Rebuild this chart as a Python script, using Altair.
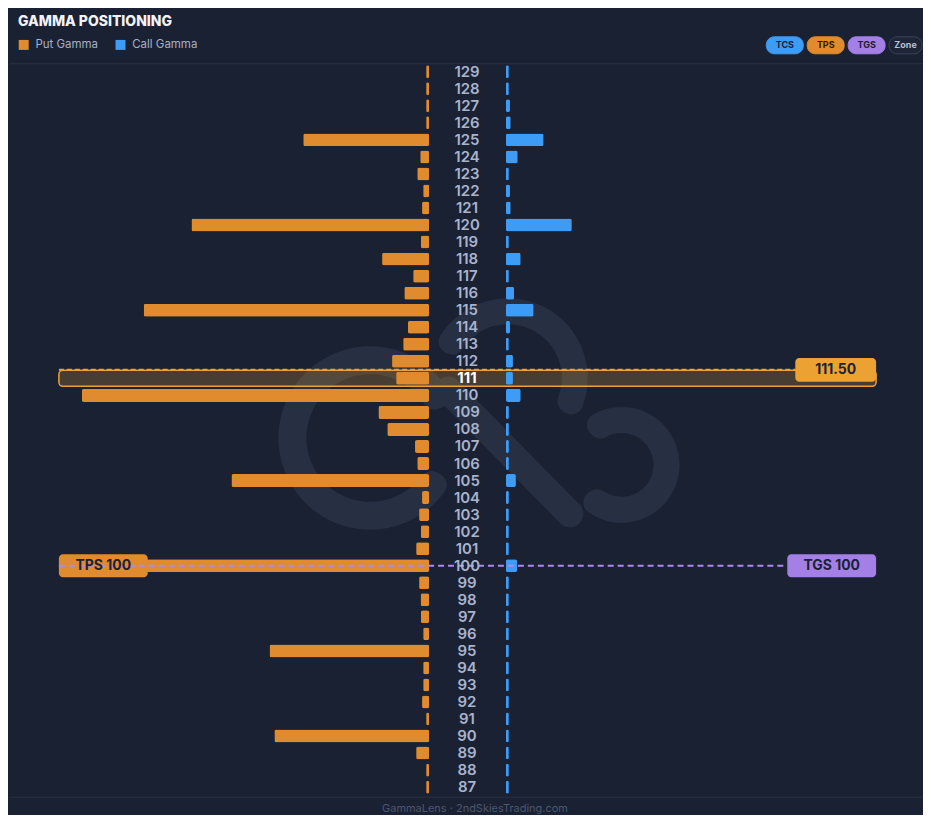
import altair as alt
import pandas as pd

# ---------------- data ----------------
strikes = list(range(129, 86, -1))  # 129 .. 87
put_gamma = [0.8, 0.8, 0.8, 0.8, 34.0, 2.4, 3.2, 1.6, 1.9, 64.2,
             2.2, 12.7, 4.3, 6.7, 77.1, 5.7, 7.0, 10.0, 8.9, 93.8,
             13.7, 11.3, 3.8, 3.2, 53.4, 1.9, 2.7, 2.2, 3.5, 100.0,
             2.7, 2.3, 2.2, 1.6, 43.1, 1.6, 1.6, 1.9, 0.8, 41.8,
             3.5, 0.8, 0.8]
call_gamma = [0.8, 0.8, 1.1, 1.3, 10.2, 3.2, 0.8, 1.1, 1.3, 17.8,
              0.8, 4.0, 0.8, 2.2, 7.5, 1.1, 0.8, 1.9, 1.9, 4.0,
              0.8, 0.8, 0.8, 0.8, 2.7, 0.8, 0.8, 0.8, 0.8, 3.0,
              0.8, 0.8, 0.8, 0.8, 0.8, 0.8, 0.8, 0.8, 0.8, 0.8,
              0.8, 0.8, 0.8]
spot_price = 111.50
spot_label = "111.50"
current_strike = 111
tps_level = 100
tgs_level = 100
series_names = ["Put Gamma", "Call Gamma"]
badge_names = ["TCS", "TPS", "TGS", "Zone"]
title_text = "GAMMA POSITIONING"
footer_text = "GammaLens · 2ndSkiesTrading.com"

# ---------------- style ----------------
BG = "#1a2133"
ORANGE = "#e08b2d"
BLUE = "#3d9cf5"
PURPLE = "#a37fe6"
GOLD = "#eba233"
LABEL = "#a9b4cc"
DARK = "#1b2234"
WMARK = "#273043"
FONT = "Inter"
W, H = 915, 807

df = pd.DataFrame({"strike": strikes, "put": put_gamma, "call": call_gamma})

yscale = alt.Scale(domain=[87, 129], range=[780, 63], padding=0)
Y = alt.Y("strike:Q", scale=yscale, axis=None)
cscale = alt.Scale(domain=series_names, range=[ORANGE, BLUE])

put_bars = alt.Chart(df).transform_calculate(series="'Put Gamma'").mark_bar(
    orient="horizontal", size=13, cornerRadius=2
).encode(
    y=Y,
    x=alt.X("put:Q", scale=alt.Scale(domain=[0, 100], range=[421, 50]), axis=None),
    color=alt.Color("series:N", scale=cscale, legend=alt.Legend(
        orient="none", legendX=9, legendY=30, direction="horizontal", title=None,
        symbolType="square", symbolSize=100, symbolStrokeWidth=0,
        labelColor="#a8b1c4", labelFontSize=11.5, labelFont=FONT,
        columnPadding=16, labelOffset=6)),
)

call_bars = alt.Chart(df).transform_calculate(series="'Call Gamma'").mark_bar(
    orient="horizontal", size=13, cornerRadius=2
).encode(
    y=Y,
    x=alt.X("call:Q", scale=alt.Scale(domain=[0, 100], range=[498, 869]), axis=None),
    color=alt.Color("series:N", scale=cscale),
)

# highlighted current strike row
band_df = pd.DataFrame({"strike": [current_strike]})
band = alt.Chart(band_df).transform_calculate(
    top="datum.strike + 0.47", bot="datum.strike - 0.47"
).mark_rect(fill=GOLD, fillOpacity=0.22, stroke=GOLD, strokeWidth=1.5, cornerRadius=4).encode(
    y=alt.Y("top:Q", scale=yscale, axis=None), y2="bot:Q",
    x=alt.value(50), x2=alt.value(869),
)

spot_df = pd.DataFrame({"strike": [spot_price], "label": [spot_label]})
spot_line = alt.Chart(spot_df).mark_rule(color=GOLD, strokeWidth=2, strokeDash=[5, 3]).encode(
    y=Y, x=alt.value(50), x2=alt.value(788)
)
spot_badge = alt.Chart(spot_df).transform_calculate(
    top="datum.strike + 0.70", bot="datum.strike - 0.70"
).mark_rect(fill=GOLD, cornerRadius=4).encode(
    y=alt.Y("top:Q", scale=yscale, axis=None), y2="bot:Q",
    x=alt.value(788), x2=alt.value(869),
)
spot_text = alt.Chart(spot_df).mark_text(
    font=FONT, fontSize=14, fontWeight="bold", color=DARK
).encode(y=Y, x=alt.value(828.5), text="label:N")

lvl_df = pd.DataFrame({"strike": [tps_level], "tps": [f"TPS {tps_level}"], "tgs": [f"TGS {tgs_level}"]})
lvl_line = alt.Chart(lvl_df).mark_rule(color="#ad88ee", strokeWidth=2, strokeDash=[6, 4]).encode(
    y=Y, x=alt.value(50), x2=alt.value(780)
)
tps_badge = alt.Chart(lvl_df).transform_calculate(
    top="datum.strike + 0.67", bot="datum.strike - 0.67"
).mark_rect(fill=ORANGE, cornerRadius=4).encode(
    y=alt.Y("top:Q", scale=yscale, axis=None), y2="bot:Q",
    x=alt.value(50), x2=alt.value(139),
)
tps_text = alt.Chart(lvl_df).mark_text(font=FONT, fontSize=14, fontWeight="bold", color=DARK).encode(
    y=Y, x=alt.value(94.5), text="tps:N")
tgs_badge = alt.Chart(lvl_df).transform_calculate(
    top="datum.strike + 0.67", bot="datum.strike - 0.67"
).mark_rect(fill=PURPLE, cornerRadius=4).encode(
    y=alt.Y("top:Q", scale=yscale, axis=None), y2="bot:Q",
    x=alt.value(780), x2=alt.value(869),
)
tgs_text = alt.Chart(lvl_df).mark_text(font=FONT, fontSize=14, fontWeight="bold", color=DARK).encode(
    y=Y, x=alt.value(824.5), text="tgs:N")

# strike labels
labels = alt.Chart(df).transform_filter(f"datum.strike != {current_strike}").mark_text(
    font=FONT, fontSize=15, fontWeight=600, color=LABEL
).encode(y=Y, x=alt.value(459), text="strike:Q")
label_cur = alt.Chart(df).transform_filter(f"datum.strike == {current_strike}").mark_text(
    font=FONT, fontSize=15, fontWeight="bold", color="#ffffff"
).encode(y=Y, x=alt.value(459), text="strike:Q")

# chrome: title, separators, footer, badges, watermark
def one(text):
    return alt.Data(values=[{"t": text}])

title = alt.Chart(one(title_text)).mark_text(
    font=FONT, fontSize=14, fontWeight=800, color="#f1f3f8", align="left", baseline="middle"
).encode(x=alt.value(9), y=alt.value(13), text="t:N")
footer = alt.Chart(one(footer_text)).mark_text(
    font=FONT, fontSize=11, color="#4d576c", align="center", baseline="middle"
).encode(x=alt.value(467), y=alt.value(802), text="t:N")
sep_top = alt.Chart(one("")).mark_rule(color="#2a3346", strokeWidth=1).encode(
    x=alt.value(0), x2=alt.value(W), y=alt.value(55))
sep_bot = alt.Chart(one("")).mark_rule(color="#262f42", strokeWidth=1).encode(
    x=alt.value(0), x2=alt.value(W), y=alt.value(790))

# faint logo watermark (decoration)
wm_arcs = [
    # cx, cy, inner, outer, theta, theta2 (radians, clockwise from 12 o'clock)
    (362, 430, 64, 92, 2.05, 7.45),
    (500, 370, 54, 80, 5.10, 8.40),
    (614, 457, 32, 58, 5.50, 10.30),
]
wm_layers = []
for cx, cy, r0, r1, t0, t1 in wm_arcs:
    wm_layers.append(alt.Chart(one("")).mark_arc(
        color=WMARK, radius=r1, radius2=r0, theta=t0, theta2=t1, cornerRadius=12
    ).encode(x=alt.value(cx), y=alt.value(cy)))
wm_layers.append(alt.Chart(one("")).mark_rule(
    color=WMARK, strokeWidth=27, strokeCap="round"
).encode(x=alt.value(440), y=alt.value(382), x2=alt.value(562), y2=alt.value(506)))

badge_fill = {"TCS": BLUE, "TPS": ORANGE, "TGS": PURPLE, "Zone": "#1d2536"}
badge_stroke = {"TCS": BLUE, "TPS": ORANGE, "TGS": PURPLE, "Zone": "#3a4458"}
badge_txt = {"TCS": "#14213a", "TPS": "#2a1a08", "TGS": "#221838", "Zone": "#b8c1d3"}
badge_x = {"TCS": (759, 796), "TPS": (800, 837), "TGS": (841, 878), "Zone": (882, 915)}
badge_layers = []
for b in badge_names:
    x0, x1 = badge_x[b]
    badge_layers.append(alt.Chart(one(b)).mark_rect(
        fill=badge_fill[b], stroke=badge_stroke[b], strokeWidth=1, cornerRadius=8
    ).encode(x=alt.value(x0), x2=alt.value(x1), y=alt.value(28), y2=alt.value(45)))
    badge_layers.append(alt.Chart(one(b)).mark_text(
        font=FONT, fontSize=9, fontWeight="bold", color=badge_txt[b], baseline="middle"
    ).encode(x=alt.value((x0 + x1) / 2), y=alt.value(36.5), text="t:N"))

chart = alt.layer(
    *wm_layers, sep_top, sep_bot, band, put_bars, call_bars, spot_line,
    tps_badge, tgs_badge, lvl_line,
    labels, label_cur, spot_badge, spot_text, tps_text, tgs_text,
    title, footer, *badge_layers
).resolve_scale(x="independent").properties(
    width=W, height=H, padding=0, background=BG
).configure_view(stroke=None)

chart.save("out.html", embed_options={"renderer": "svg", "actions": False})
